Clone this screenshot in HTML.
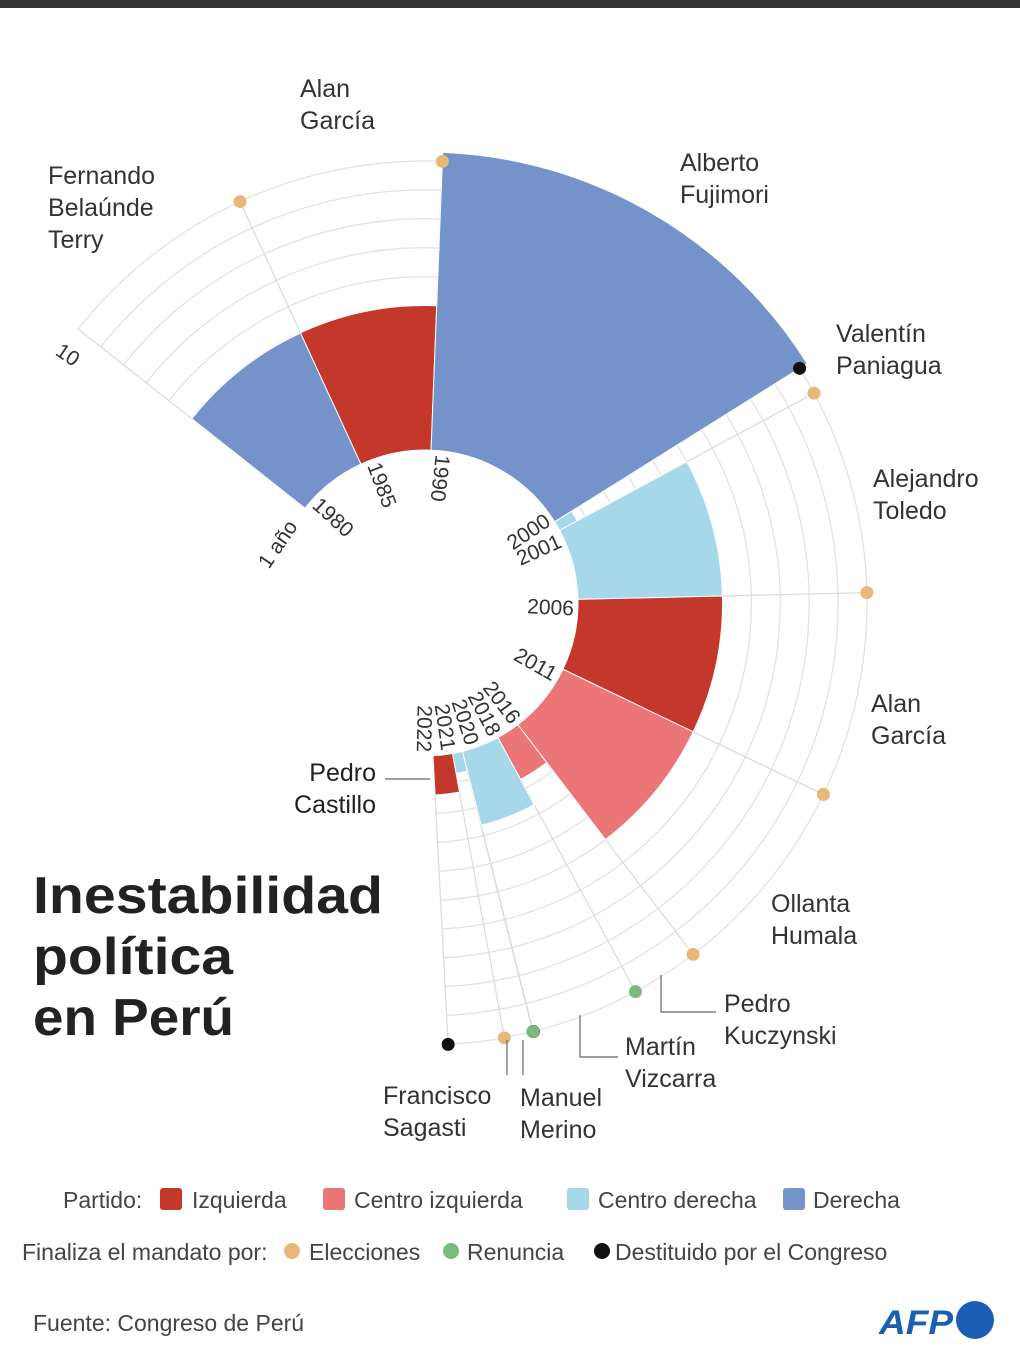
<!DOCTYPE html>
<html><head><meta charset="utf-8">
<style>
html,body{margin:0;padding:0;background:#fff;}
svg{display:block;font-family:"Liberation Sans",sans-serif;}
.nm{font-size:25px;fill:#333;}
.yr{font-size:21px;fill:#333;}
.lg{font-size:23px;fill:#444;}
</style></head>
<body>
<svg id="chart" width="1020" height="1364" viewBox="0 0 1020 1364" xmlns="http://www.w3.org/2000/svg">
<rect x="0" y="0" width="1020" height="8" fill="#333"/>
<g id="grid"></g>
<g id="bars"></g>
<g id="gridlines"></g>
<g id="dots"></g>
<g id="yearlabels"></g>
<text class="yr" transform="translate(279,545) rotate(-56)" text-anchor="middle" dominant-baseline="middle">1 año</text>
<text class="yr" transform="translate(67,356) rotate(34)" text-anchor="middle" dominant-baseline="middle">10</text>

<g class="nm">
<text x="48" y="184">Fernando<tspan x="48" dy="32">Belaúnde</tspan><tspan x="48" dy="32">Terry</tspan></text>
<text x="300" y="97">Alan<tspan x="300" dy="32">García</tspan></text>
<text x="680" y="171">Alberto<tspan x="680" dy="32">Fujimori</tspan></text>
<text x="836" y="342">Valentín<tspan x="836" dy="32">Paniagua</tspan></text>
<text x="873" y="487">Alejandro<tspan x="873" dy="32">Toledo</tspan></text>
<text x="871" y="712">Alan<tspan x="871" dy="32">García</tspan></text>
<text x="771" y="912">Ollanta<tspan x="771" dy="32">Humala</tspan></text>
<text x="724" y="1012">Pedro<tspan x="724" dy="32">Kuczynski</tspan></text>
<text x="625" y="1055">Martín<tspan x="625" dy="32">Vizcarra</tspan></text>
<text x="520" y="1106">Manuel<tspan x="520" dy="32">Merino</tspan></text>
<text x="383" y="1104">Francisco<tspan x="383" dy="32">Sagasti</tspan></text>
<text x="376" y="781" text-anchor="end" fill="#222">Pedro<tspan x="376" dy="32">Castillo</tspan></text>
</g>
<g stroke="#666" stroke-width="1.2" fill="none">
<path d="M661 975 V1012 H716"/>
<path d="M580 1015 V1057 H618"/>
<path d="M523 1040 V1075"/>
<path d="M507 1040 V1075"/>
<path d="M385 779 H430"/>
</g>

<g font-weight="bold" font-size="52" fill="#222">
<text x="33" y="913" textLength="350" lengthAdjust="spacingAndGlyphs">Inestabilidad</text>
<text x="33" y="974" textLength="200" lengthAdjust="spacingAndGlyphs">política</text>
<text x="33" y="1035" textLength="201" lengthAdjust="spacingAndGlyphs">en Perú</text>
</g>

<g class="lg">
<text x="63" y="1208">Partido:</text>
<rect x="160" y="1188" width="22" height="22" rx="3" fill="#c4382c"/>
<text x="192" y="1208">Izquierda</text>
<rect x="323" y="1188" width="22" height="22" rx="3" fill="#ec7577"/>
<text x="354" y="1208">Centro izquierda</text>
<rect x="567" y="1188" width="22" height="22" rx="3" fill="#a6d8ea"/>
<text x="598" y="1208">Centro derecha</text>
<rect x="783" y="1188" width="22" height="22" rx="3" fill="#7593cb"/>
<text x="813" y="1208">Derecha</text>
</g>
<g class="lg">
<text x="22" y="1260">Finaliza el mandato por:</text>
<circle cx="292" cy="1251" r="8" fill="#e8b878"/>
<text x="309" y="1260">Elecciones</text>
<circle cx="451" cy="1251" r="8" fill="#7bb97d"/>
<text x="467" y="1260">Renuncia</text>
<circle cx="602" cy="1251" r="8" fill="#111"/>
<text x="615" y="1260">Destituido por el Congreso</text>
</g>
<text class="lg" x="33" y="1331">Fuente: Congreso de Perú</text>
<g>
<text x="879" y="1334" font-size="34" font-weight="bold" font-style="italic" fill="#1a5fb4" textLength="74" lengthAdjust="spacingAndGlyphs">AFP</text>
<circle cx="975" cy="1320" r="19" fill="#1a5fb4"/>
</g>
</svg>
<script>
const names = ["Belaúnde","García","Fujimori","Paniagua","Toledo","García","Humala","Kuczynski","Vizcarra","Merino","Sagasti","Castillo"];
const starts = [1980.58,1985.57,1990.57,2000.88,2001.57,2006.57,2011.57,2016.57,2018.22,2020.86,2020.87,2021.57];
const ends = [1985.57,1990.57,2000.88,2001.57,2006.57,2011.57,2016.57,2018.22,2020.86,2020.87,2021.57,2022.93];
const parties = ["derecha","izquierda","derecha","cder","cder","izquierda","cizq","cizq","cder","cder","cder","izquierda"];
const endReasons = ["elecciones","elecciones","destituido","elecciones","elecciones","elecciones","elecciones","renuncia","destituido","renuncia","elecciones","destituido"];
const yearLabels = ["1980","1985","1990","2000","2001","2006","2011","2016","2018","2020","2021","2022"];
const yearLabelValues = [1980.58,1985.57,1990.57,2000.88,2001.57,2006.57,2011.57,2016.57,2018.22,2020.86,2021.57,2022.93];

const NS="http://www.w3.org/2000/svg";
const cx=425, cy=603, r0=153, perYear=28.9, tEnd=2022.93, angEnd=177, degPerYear=5.4;
const colors={izquierda:"#c4382c",cizq:"#ec7577",cder:"#a6d8ea",derecha:"#7593cb"};
const dotColors={elecciones:"#e8b878",renuncia:"#7bb97d",destituido:"#111"};
function ang(t){return angEnd-(tEnd-t)*degPerYear;}
function rad(d){return r0+d*perYear;}
function pt(r,a){const q=a*Math.PI/180;return [cx+r*Math.sin(q),cy-r*Math.cos(q)];}
function mk(tag,parent){const e=document.createElementNS(NS,tag);document.getElementById(parent).appendChild(e);return e;}
function sector(ri,ro,a1,a2){
  const p1=pt(ri,a1),p2=pt(ro,a1),p3=pt(ro,a2),p4=pt(ri,a2),L=(a2-a1)>180?1:0;
  return `M${p1} L${p2} A${ro} ${ro} 0 ${L} 1 ${p3} L${p4} A${ri} ${ri} 0 ${L} 0 ${p1} Z`;
}
const a0=ang(starts[0]), aN=ang(ends[ends.length-1]);
for(let k=1;k<=10;k++){
  const r=rad(k), p1=pt(r,a0), p2=pt(r,aN);
  const e=mk("path","grid");
  
  
  e.setAttribute("d",`M${p1} A${r} ${r} 0 1 1 ${p2}`);
  e.setAttribute("fill","none");e.setAttribute("stroke","#e2e2e2");e.setAttribute("stroke-width","1.3");
}
const bounds=[starts[0]].concat(ends);
bounds.forEach(t=>{
  const a=ang(t),p1=pt(r0,a),p2=pt(rad(10),a);
  const e=mk("line","grid");
  
  
  e.setAttribute("x1",p1[0]);e.setAttribute("y1",p1[1]);e.setAttribute("x2",p2[0]);e.setAttribute("y2",p2[1]);
  e.setAttribute("stroke","#dcdcdc");e.setAttribute("stroke-width","1.3");
});
names.forEach((n,i)=>{
  const a1=ang(starts[i]),a2=ang(ends[i]),ro=rad(ends[i]-starts[i]);
  const e=mk("path","bars");
  
  
  e.setAttribute("d",sector(r0,ro,a1,a2));
  e.setAttribute("fill",colors[parties[i]]);e.setAttribute("stroke","#fff");e.setAttribute("stroke-width","1");
});
endReasons.forEach((d,i)=>{
  const p=pt(rad(10),ang(ends[i]));
  const e=mk("circle","dots");
  
  
  e.setAttribute("cx",p[0]);e.setAttribute("cy",p[1]);e.setAttribute("r","6.5");e.setAttribute("fill",dotColors[d]);
});
let la=yearLabelValues.map(t=>ang(t)+4);
for(let i=la.length-2;i>=0;i--){ if(la[i]>la[i+1]-9.5) la[i]=la[i+1]-9.5; }
yearLabels.forEach((s,i)=>{
  const a=la[i],p=pt(r0-4,a);
  const e=mk("text","yearlabels");
  
  
  e.setAttribute("class","yr");
  e.setAttribute("dominant-baseline","middle");
  if(a<30){e.setAttribute("text-anchor","start");e.setAttribute("transform",`translate(${p}) rotate(${a+90})`);}
  else{e.setAttribute("text-anchor","end");e.setAttribute("transform",`translate(${p}) rotate(${a-90})`);}
  e.textContent=s;
});
</script>
</body></html>
